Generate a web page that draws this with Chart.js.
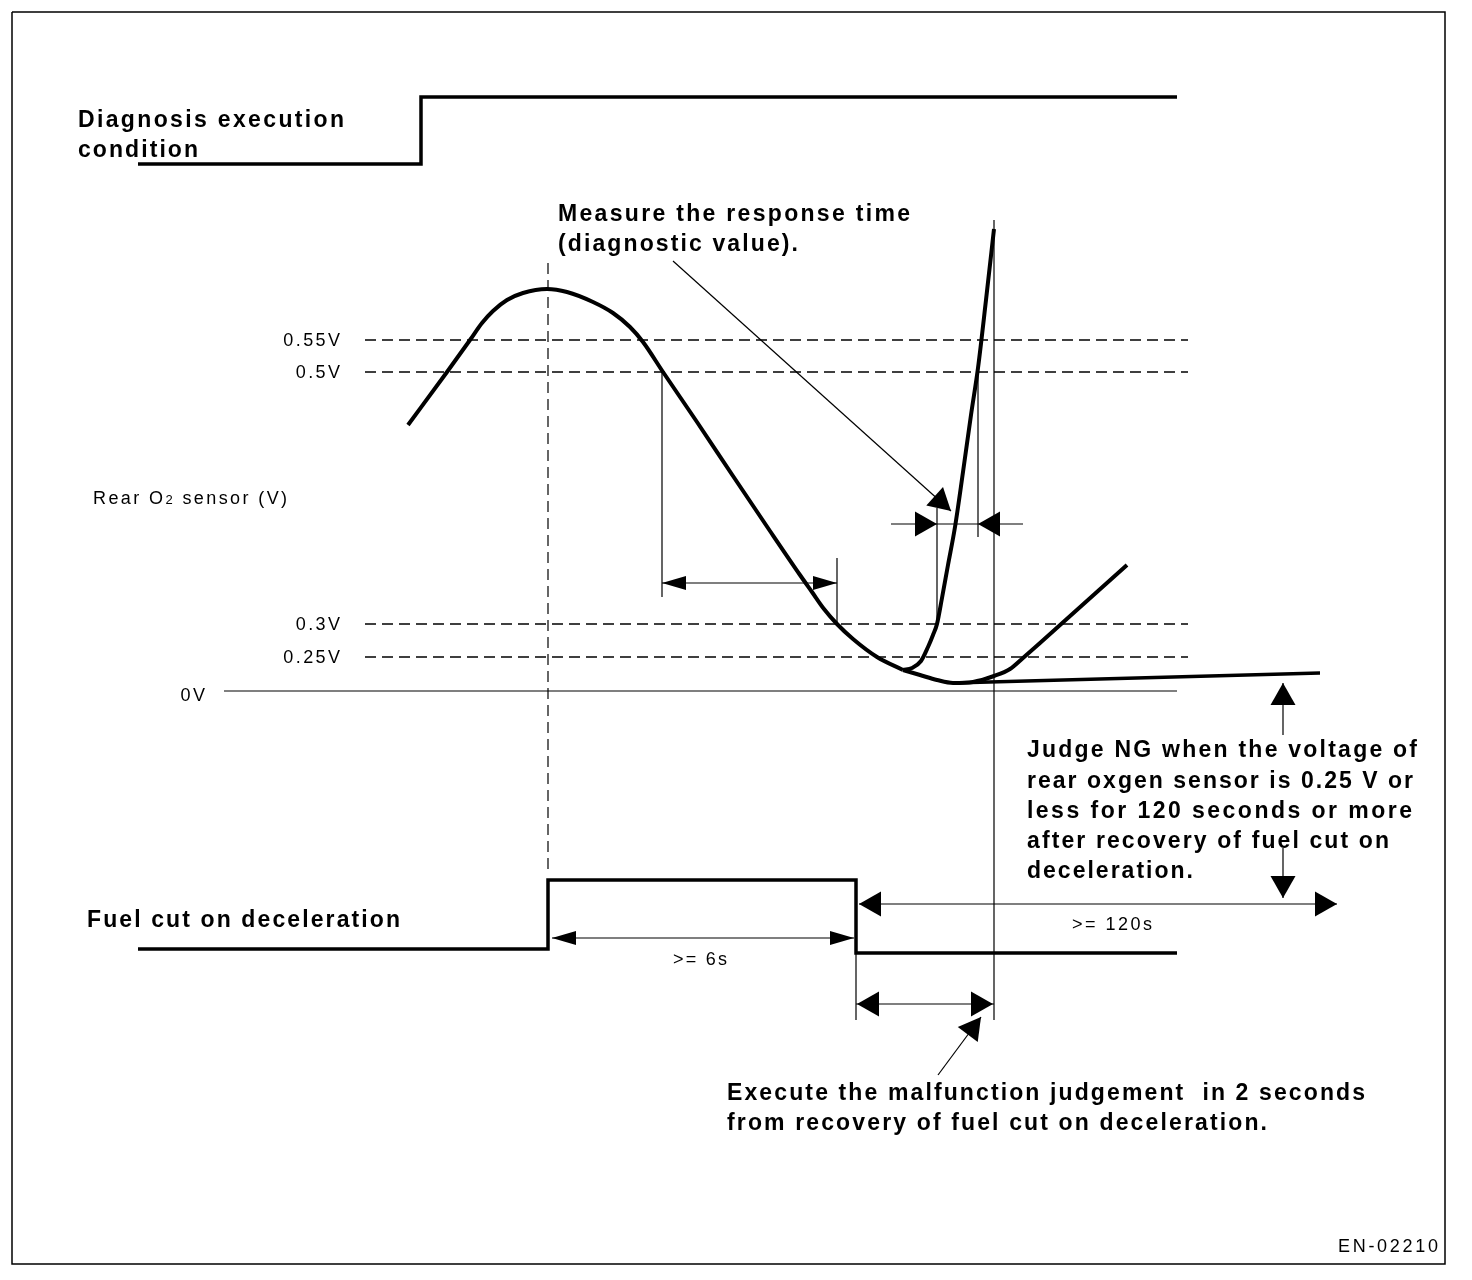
<!DOCTYPE html>
<html>
<head>
<meta charset="utf-8">
<title>Rear O2 sensor diagnosis timing</title>
<script src="https://cdn.jsdelivr.net/npm/chart.js@4.4.1/dist/chart.umd.min.js"></script>
<style>
  html, body { margin: 0; padding: 0; background: #fff; }
  canvas { display: block; }
</style>
</head>
<body>
<canvas id="diagram" width="1472" height="1280"></canvas>
<script>
// diagram units: t runs left -> right, level runs top -> bottom

// diagnosis execution condition (step up)
const diagCondT = [138, 421, 421, 1177];
const diagCondLevel = [164, 164, 97, 97];

// fuel cut on deceleration (pulse)
const fuelCutT = [138, 548, 548, 856, 856, 1177];
const fuelCutLevel = [949, 949, 880, 880, 953, 953];

// rear O2 sensor output, common part up to the branch
const o2MainT = [408, 447, 470, 482, 493, 507, 523, 547, 567, 593, 613, 630, 643, 663, 697, 733, 770, 800, 812, 824, 837, 853, 877, 903];
const o2MainLevel = [425, 372, 340, 323, 311, 300, 293, 289, 292, 302, 313, 327, 342, 372, 422, 476, 531, 575, 592, 609, 624, 639, 657, 670];

// fast recovery (normal sensor)
const o2FastT = [903, 912, 921, 928, 933, 937, 942, 948, 955, 963, 971, 978, 986, 994];
const o2FastLevel = [670, 668, 661, 647, 635, 624, 598, 565, 527, 472, 415, 368, 300, 229];

// slow recovery
const o2SlowT = [903, 920, 937, 953, 973, 994, 1010, 1023, 1040, 1127];
const o2SlowLevel = [670, 675, 680, 683, 682, 676, 669, 658, 643, 565];

// stuck low (NG)
const o2FlatT = [953, 1320];
const o2FlatLevel = [683, 673];

// voltage thresholds
const thresholdLabels = ['0.55V', '0.5V', '0.3V', '0.25V'];
const thresholdLevel = [340, 372, 624, 657];
const zeroLabel = '0V';
const zeroLevel = 691;

// thin guide lines: t, from level, to level
const guideT = [662, 837, 937, 978, 994, 856];
const guideFrom = [372, 558, 508, 372, 220, 880];
const guideTo = [597, 626, 626, 537, 1020, 1020];

// dimension arrows: level, from t, to t
const spanLevel = [583, 524, 938, 904, 1004];
const spanFrom = [662, 891, 552, 859, 856];
const spanTo = [837, 1023, 854, 1337, 994];

// arrow heads: tip position, pointing angle (deg), kind
const headT = [662, 837, 937, 978, 951, 552, 854, 859, 1337, 857, 993, 981, 1283, 1283];
const headLevel = [583, 583, 524, 524, 511, 938, 938, 904, 904, 1004, 1004, 1017, 683, 898];
const headAngle = [180, 0, 0, 180, 42, 180, 0, 180, 0, 180, 0, -53, -90, 90];
const headKind = ['n', 'n', 'w', 'w', 'w', 'n', 'n', 'w', 'w', 'w', 'w', 'w', 'w', 'w'];

function series(xs, ys, width, extra) {
  return Object.assign({
    data: xs.map((x, i) => ({ x: x, y: ys[i] })),
    showLine: true,
    pointRadius: 0,
    borderColor: '#000',
    backgroundColor: '#000',
    borderWidth: width,
    borderDash: [],
    tension: 0,
    fill: false,
    borderCapStyle: 'butt',
    borderJoinStyle: 'miter'
  }, extra || {});
}

const datasets = [];
// frame
datasets.push(series([12, 1445, 1445, 12, 12], [12, 12, 1264, 1264, 12], 1.5));
// steps
datasets.push(series(diagCondT, diagCondLevel, 3.5));
datasets.push(series(fuelCutT, fuelCutLevel, 3.5));
// sensor curves
const curveStyle = { cubicInterpolationMode: 'monotone', tension: 0.4, borderJoinStyle: 'round' };
datasets.push(series(o2MainT, o2MainLevel, 4, curveStyle));
datasets.push(series(o2FastT, o2FastLevel, 4, curveStyle));
datasets.push(series(o2SlowT, o2SlowLevel, 4, curveStyle));
datasets.push(series(o2FlatT, o2FlatLevel, 3.5));
// thresholds
thresholdLevel.forEach(v => datasets.push(series([365, 1188], [v, v], 1.5, { borderDash: [11, 6] })));
datasets.push(series([224, 1177], [zeroLevel, zeroLevel], 1.2));
// start of fuel cut
datasets.push(series([548, 548], [263, 872], 1.2, { borderDash: [11, 6] }));
// guides
guideT.forEach((t, i) => datasets.push(series([t, t], [guideFrom[i], guideTo[i]], 1.2)));
// dimension arrow shafts
spanLevel.forEach((v, i) => datasets.push(series([spanFrom[i], spanTo[i]], [v, v], 1.2)));
datasets.push(series([1283, 1283], [683, 735], 1.2));
datasets.push(series([1283, 1283], [848, 898], 1.2));
// leader lines
datasets.push(series([673, 951], [261, 511], 1.2));
datasets.push(series([938, 981], [1075, 1017], 1.2));

// text annotations: text, t, baseline level, size, bold, span width
const textItems = [
  ['Diagnosis execution', 78, 127, 23, true, 266],
  ['condition', 78, 157, 23, true, 120],
  ['Measure the response time', 558, 221, 23, true, 352],
  ['(diagnostic value).', 558, 251, 23, true, 240],
  ['Judge NG when the voltage of', 1027, 757, 23, true, 390],
  ['rear oxgen sensor is 0.25 V or', 1027, 788, 23, true, 386],
  ['less for 120 seconds or more', 1027, 818, 23, true, 385],
  ['after recovery of fuel cut on', 1027, 848, 23, true, 362],
  ['deceleration.', 1027, 878, 23, true, 166],
  ['Fuel cut on deceleration', 87, 927, 23, true, 313],
  ['Execute the malfunction judgement  in 2 seconds', 727, 1100, 23, true, 638],
  ['from recovery of fuel cut on deceleration.', 727, 1130, 23, true, 540],
  ['>= 6s', 673, 965, 18, false, 54],
  ['>= 120s', 1072, 930, 18, false, 80],
  ['EN-02210', 1338, 1252, 18, false, 100]
];

function fontOf(size, bold) {
  return (bold ? 'bold ' : '') + size + 'px "Liberation Sans", Arial, sans-serif';
}

// draw char by char with even tracking
function spaced(ctx, text, x, y, ls) {
  let cx = x;
  for (const ch of text) {
    ctx.fillText(ch, cx, y);
    cx += ctx.measureText(ch).width + ls;
  }
  return cx - ls;
}
function plainWidth(ctx, text) {
  let w = 0;
  for (const ch of text) w += ctx.measureText(ch).width;
  return w;
}

const annotations = {
  id: 'annotations',
  afterDatasetsDraw(chart) {
    const ctx = chart.ctx;
    const sx = chart.scales.x, sy = chart.scales.y;
    const px = t => sx.getPixelForValue(t);
    const py = v => sy.getPixelForValue(v);
    ctx.save();
    ctx.fillStyle = '#000';

    // arrow heads
    headT.forEach((t, i) => {
      const len = headKind[i] === 'n' ? 24 : 22;
      const half = headKind[i] === 'n' ? 7 : 12.5;
      const a = headAngle[i] * Math.PI / 180;
      const x = px(t), y = py(headLevel[i]);
      const bx = x - Math.cos(a) * len, by = y - Math.sin(a) * len;
      const nx = -Math.sin(a) * half, ny = Math.cos(a) * half;
      ctx.beginPath();
      ctx.moveTo(x, y);
      ctx.lineTo(bx + nx, by + ny);
      ctx.lineTo(bx - nx, by - ny);
      ctx.closePath();
      ctx.fill();
    });

    ctx.textBaseline = 'alphabetic';
    ctx.textAlign = 'left';

    textItems.forEach(([text, t, v, size, bold, width]) => {
      ctx.font = fontOf(size, bold);
      const n = [...text].length;
      const ls = (width - plainWidth(ctx, text)) / (n - 1);
      spaced(ctx, text, px(t), py(v), ls);
    });

    // threshold labels, right aligned
    ctx.font = fontOf(18, false);
    const ls = 2.4;
    thresholdLabels.forEach((lab, i) => {
      const w = plainWidth(ctx, lab) + ls * ([...lab].length - 1);
      spaced(ctx, lab, px(340) - w, py(thresholdLevel[i] + 6), ls);
    });
    const zw = plainWidth(ctx, zeroLabel) + ls;
    spaced(ctx, zeroLabel, px(205) - zw, py(zeroLevel + 10), ls);

    // axis caption with small "2"
    const cap = 2.4;
    let x = spaced(ctx, 'Rear O', px(93), py(504), cap) + cap;
    ctx.font = fontOf(13, false);
    x = spaced(ctx, '2', x, py(504), cap) + cap;
    ctx.font = fontOf(18, false);
    spaced(ctx, ' sensor (V)', x, py(504), cap);

    ctx.restore();
  }
};

new Chart(document.getElementById('diagram'), {
  type: 'scatter',
  data: { datasets: datasets },
  options: {
    responsive: false,
    animation: false,
    events: [],
    layout: { padding: 0 },
    plugins: { legend: { display: false }, tooltip: { enabled: false } },
    scales: {
      x: { type: 'linear', min: 0, max: 1472, display: false },
      y: { type: 'linear', min: 0, max: 1280, reverse: true, display: false }
    }
  },
  plugins: [annotations]
});
</script>
</body>
</html>
